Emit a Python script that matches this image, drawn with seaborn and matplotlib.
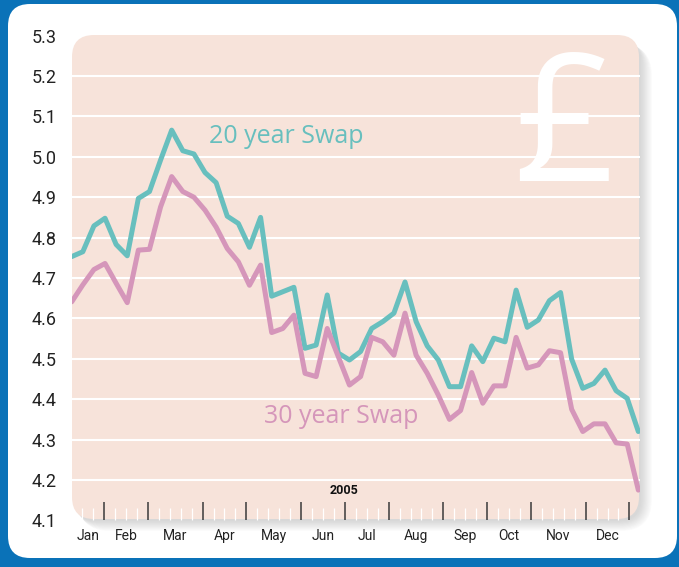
import numpy as np
import pandas as pd
import matplotlib
matplotlib.use("Agg")
import matplotlib.pyplot as plt
import seaborn as sns
from matplotlib.patches import FancyBboxPatch
from matplotlib.transforms import IdentityTransform

# weekly swap rates, 2005 (%)
swap_20y = [4.753, 4.765, 4.829, 4.848, 4.783, 4.755, 4.897, 4.914, 4.992, 5.066,
            5.015, 5.007, 4.961, 4.936, 4.853, 4.835, 4.776, 4.850, 4.655, 4.666,
            4.677, 4.526, 4.534, 4.658, 4.514, 4.497, 4.518, 4.575, 4.592, 4.613,
            4.690, 4.592, 4.532, 4.497, 4.431, 4.431, 4.532, 4.493, 4.551, 4.542,
            4.670, 4.578, 4.596, 4.644, 4.664, 4.499, 4.427, 4.439, 4.472, 4.421,
            4.402, 4.320]
swap_30y = [4.641, 4.683, 4.721, 4.736, 4.687, 4.639, 4.769, 4.771, 4.876, 4.951,
            4.914, 4.900, 4.868, 4.826, 4.773, 4.740, 4.682, 4.732, 4.565, 4.575,
            4.608, 4.464, 4.456, 4.575, 4.505, 4.435, 4.456, 4.553, 4.542, 4.509,
            4.613, 4.509, 4.464, 4.410, 4.350, 4.372, 4.466, 4.390, 4.433, 4.433,
            4.553, 4.477, 4.485, 4.520, 4.515, 4.375, 4.320, 4.339, 4.339, 4.292,
            4.289, 4.175]
weeks = list(range(len(swap_20y)))

months = ["Jan", "Feb", "Mar", "Apr", "May", "Jun",
          "Jul", "Aug", "Sep", "Oct", "Nov", "Dec"]
month_edges = [0, 3, 7, 12, 16, 21, 25, 29, 34, 38, 42, 47, 51]  # week ticks
y_ticks = [4.1, 4.2, 4.3, 4.4, 4.5, 4.6, 4.7, 4.8, 4.9, 5.0, 5.1, 5.2, 5.3]

df = pd.DataFrame({
    "week": weeks * 2,
    "rate": swap_20y + swap_30y,
    "series": ["20 year Swap"] * len(weeks) + ["30 year Swap"] * len(weeks),
})

BLUE = "#0a72b8"
TEAL = "#68bfbe"
PINK = "#d596ba"
PANEL = "#f7e3da"

W, H = 679, 567
sns.set_style("white")
plt.rcParams["font.family"] = ["Roboto", "DejaVu Sans"]

fig = plt.figure(figsize=(W / 100, H / 100), dpi=100)
fig.patch.set_facecolor(BLUE)


def rounded(x0, y0, x1, y1, r, **kw):
    # box in image pixels (origin top left)
    p = FancyBboxPatch((x0, H - y1), x1 - x0, y1 - y0,
                       boxstyle=f"round,pad=0,rounding_size={r}",
                       transform=IdentityTransform(), **kw)
    fig.add_artist(p)
    return p


rounded(8, 4, 677, 558, 22, facecolor="white", edgecolor="none", zorder=-5)
# soft shadow under the panel
for i in range(10):
    rounded(72 + 2 + i * 0.5, 35 + 5 + i * 0.5, 639 + 2 + i * 1.2, 519 + 2 + i * 1.1,
            22 + i, facecolor="#8a8a8a", edgecolor="none", alpha=0.035, zorder=-4)
rounded(72, 35, 639, 519, 22, facecolor=PANEL, edgecolor="none", zorder=-3)

ax = fig.add_axes([71.7 / W, 1 - 520.4 / H, (640 - 71.7) / W, (520.4 - 35.6) / H])
ax.set_facecolor("none")
for s in ax.spines.values():
    s.set_visible(False)

sns.lineplot(data=df, x="week", y="rate", hue="series",
             palette={"20 year Swap": TEAL, "30 year Swap": PINK},
             linewidth=3.6, legend=False, ax=ax, zorder=3)

ax.set_xlim(0, 51.15)
ax.set_ylim(4.1, 5.3)
ax.set_xlabel("")
ax.set_ylabel("")


def tick_pos(k):
    return np.asarray(k) * 0.985 - 0.04


major = month_edges[1:]
minor = [k for k in range(1, 52) if k not in major]
ax.set_xticks(tick_pos(major))
ax.set_xticks(tick_pos(minor), minor=True)
ax.tick_params(axis="x", which="major", bottom=True, direction="in", length=13,
               width=1.1, color="#3a3a3a", labelbottom=False)
ax.tick_params(axis="x", which="minor", bottom=True, direction="in", length=8.5,
               width=0.9, color="white")

centers = [(a + b) / 2 for a, b in zip(month_edges[:-1], month_edges[1:])]
sec = ax.secondary_xaxis("bottom")
sec.set_xticks(tick_pos(centers))
sec.set_xticklabels(months)
sec.tick_params(length=0, pad=6, labelsize=10, labelcolor="#222222")
sec.spines["bottom"].set_visible(False)

ax.set_yticks(y_ticks)
ax.set_yticklabels([f"{v:.1f}" for v in y_ticks])
ax.tick_params(axis="y", length=0, pad=11, labelsize=13, labelcolor="#222222")
ax.grid(True, axis="y", color="white", linewidth=1.5)
ax.grid(False, axis="x")
gl = ax.yaxis.get_gridlines()
gl[0].set_visible(False)
gl[-1].set_visible(False)

ax.text(24.5, 4.175, "2005", ha="center", va="center", fontsize=9,
        fontweight="bold", color="#111111")
ax.text(19.3, 5.05, "20 year Swap", ha="center", va="center", fontsize=18,
        color=TEAL, family=["Open Sans", "DejaVu Sans"])
ax.text(24.3, 4.358, "30 year Swap", ha="center", va="center", fontsize=18,
        color=PINK, family=["Open Sans", "DejaVu Sans"])
ax.text(0.866, 0.795, "£", transform=ax.transAxes, ha="center", va="center",
        fontsize=128, color="white", family=["Open Sans", "DejaVu Sans"],
        zorder=1)

fig.savefig("out.png", dpi=100, facecolor=fig.get_facecolor())
